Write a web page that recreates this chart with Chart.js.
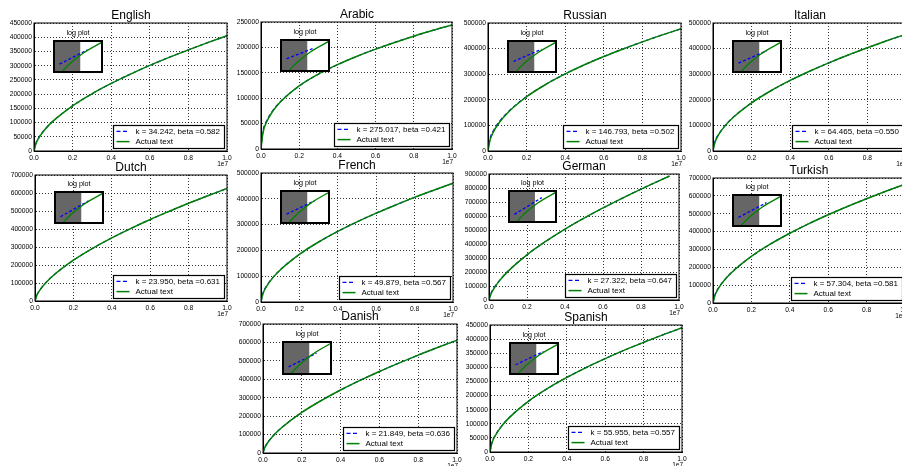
<!DOCTYPE html>
<html>
<head>
<meta charset="utf-8">
<script src="https://cdn.jsdelivr.net/npm/chart.js@4/dist/chart.umd.min.js"></script>
<style>
  html, body { margin: 0; padding: 0; background: #fff; }
  body { position: relative; width: 902px; height: 466px; overflow: hidden; font-family: "Liberation Sans", Arial, sans-serif; }
  .panel, .inset { position: absolute; }
  .inset-title { position: absolute; font-size: 7.2px; line-height: 10px; text-align: center; color: #000; white-space: nowrap; }
</style>
</head>
<body>
<script>
// ── Data ─────────────────────────────────────────────────────────
// x positions in units of 1e7 tokens
const X_POS        = [0, 0.01, 0.03, 0.06, 0.1, 0.2, 0.3, 0.4, 0.5, 0.6, 0.7, 0.8, 0.9, 1.0];
const X_POS_GERMAN = [0, 0.01, 0.03, 0.06, 0.1, 0.2, 0.3, 0.4, 0.5, 0.6, 0.7, 0.8, 0.9, 0.95];
const X_TICKS      = [0, 0.2, 0.4, 0.6, 0.8, 1.0];

const LANGUAGES   = ['English', 'Arabic', 'Russian', 'Italian', 'Dutch', 'French', 'German', 'Turkish', 'Danish', 'Spanish'];
const K_VALUES    = ['34.242', '275.017', '146.793', '64.465', '23.950', '49.879', '27.322', '57.304', '21.849', '55.955'];
const BETA_VALUES = ['0.582', '0.421', '0.502', '0.550', '0.631', '0.567', '0.647', '0.581', '0.636', '0.557'];
const Y_MAX       = [450000, 250000, 500000, 500000, 700000, 500000, 900000, 700000, 700000, 450000];
const Y_STEP      = [50000, 50000, 100000, 100000, 100000, 100000, 100000, 100000, 100000, 50000];

const ENGLISH_FIT    = [0, 27800, 52600, 78800, 106000, 158800, 201000, 237600, 270500, 300800, 329100, 355700, 380900, 405000];
const ENGLISH_ACTUAL = [0, 25900, 51300, 78200, 105800, 158900, 201100, 237500, 270400, 300900, 329000, 355600, 381000, 405200];
const ARABIC_FIT     = [0, 35100, 55800, 74700, 92500, 124000, 147000, 165900, 182200, 196800, 210000, 222100, 233500, 244000];
const ARABIC_ACTUAL  = [0, 31500, 53800, 73600, 92000, 124300, 147300, 166000, 182100, 196600, 209800, 222000, 233600, 244200];
const RUSSIAN_FIT    = [0, 47300, 82000, 116200, 150100, 212700, 260600, 301200, 336900, 369100, 398700, 426500, 452500, 477000];
const RUSSIAN_ACTUAL = [0, 41000, 77500, 112800, 147800, 211900, 260200, 301000, 336800, 369000, 398600, 426400, 452600, 477300];
const ITALIAN_FIT    = [0, 36200, 66300, 97100, 128500, 188200, 235200, 275500, 311500, 344300, 374700, 403300, 430400, 456000];
const ITALIAN_ACTUAL = [0, 33800, 64700, 96200, 128000, 188100, 235300, 275600, 311400, 344200, 374800, 403200, 430500, 456200];
const DUTCH_FIT      = [0, 34200, 68400, 105900, 146100, 226400, 292400, 350600, 403600, 452800, 498900, 542900, 584900, 625000];
const DUTCH_ACTUAL   = [0, 32500, 67200, 105200, 145800, 226500, 292500, 350500, 403500, 452900, 498800, 543000, 585000, 625300];
const FRENCH_FIT     = [0, 33800, 63000, 93300, 124700, 184700, 232400, 273700, 310500, 344300, 375700, 405400, 433400, 460000];
const FRENCH_ACTUAL  = [0, 31700, 61600, 92500, 124300, 184800, 232500, 273600, 310400, 344400, 375600, 405500, 433300, 460200];
const GERMAN_FIT     = [0, 46500, 94600, 148200, 206200, 323100, 419900, 505900, 584300, 657400, 726200, 792000, 854900, 885100];
const GERMAN_ACTUAL  = [0, 41500, 90800, 145600, 204700, 322700, 419800, 506000, 584200, 657500, 726100, 792100, 854800, 885400];
const TURKISH_FIT    = [0, 45800, 86600, 129700, 174500, 261100, 330400, 390600, 444600, 494200, 540400, 584200, 625600, 665000];
const TURKISH_ACTUAL = [0, 42000, 84200, 128300, 173700, 261000, 330500, 390500, 444700, 494100, 540500, 584100, 625700, 665200];
const DANISH_FIT     = [0, 32700, 65800, 102300, 141400, 220000, 284600, 341700, 393900, 442200, 487700, 531100, 572500, 612000];
const DANISH_ACTUAL  = [0, 30600, 64500, 101600, 141100, 220100, 284500, 341800, 393800, 442300, 487600, 531200, 572400, 612200];
const SPANISH_FIT    = [0, 33800, 62400, 91800, 122000, 179600, 225000, 264200, 299100, 331000, 360700, 388600, 415000, 440000];
const SPANISH_ACTUAL = [0, 31600, 61000, 91000, 121700, 179700, 225100, 264100, 299200, 330900, 360800, 388500, 415100, 440200];

const X_SERIES      = [X_POS, X_POS, X_POS, X_POS, X_POS, X_POS, X_POS_GERMAN, X_POS, X_POS, X_POS];
const FIT_SERIES    = [ENGLISH_FIT, ARABIC_FIT, RUSSIAN_FIT, ITALIAN_FIT, DUTCH_FIT, FRENCH_FIT, GERMAN_FIT, TURKISH_FIT, DANISH_FIT, SPANISH_FIT];
const ACTUAL_SERIES = [ENGLISH_ACTUAL, ARABIC_ACTUAL, RUSSIAN_ACTUAL, ITALIAN_ACTUAL, DUTCH_ACTUAL, FRENCH_ACTUAL, GERMAN_ACTUAL, TURKISH_ACTUAL, DANISH_ACTUAL, SPANISH_ACTUAL];

// inset "log plot" (in inset axes fractions)
const INSET_ACTUAL_X  = [0.15, 0.35, 0.6, 1.0];
const INSET_ACTUAL_Y  = [0.0, 0.3, 0.6, 0.95];
const INSET_FIT_X     = [0.13, 0.69];
const INSET_FIT_START = [0.27, 0.40, 0.35, 0.30, 0.22, 0.29, 0.26, 0.29, 0.24, 0.31];
const INSET_FIT_END   = [0.70, 0.73, 0.72, 0.67, 0.70, 0.68, 0.77, 0.74, 0.64, 0.71];
const INSET_SHADE     = [0, 0.55];

// ── Layout: plot area of each panel [left, top, right, bottom] in page px ──
const PANELS = [
  [34, 23, 227, 151],
  [261, 22, 452, 149],
  [488, 23, 681, 151],
  [713, 23, 906, 151],
  [35, 175, 227, 301],
  [261, 173, 453, 302],
  [489, 174, 679, 300],
  [713, 178, 905, 303],
  [263, 324, 457, 453],
  [490, 325, 682, 452]
];

const FONT = '"Liberation Sans", Arial, sans-serif';
const BLUE = '#0000ff';
const GREEN = '#008000';
const Y_AXIS_W = 36, X_AXIS_H = 18, TOP_PAD = 22, RIGHT_PAD = 10;

// ── Plugins ──────────────────────────────────────────────────────
const panelDecor = {
  id: 'panelDecor',
  afterDraw(chart, args, opts) {
    const { ctx, chartArea: a } = chart;
    ctx.save();
    // frame
    ctx.strokeStyle = '#000';
    ctx.lineWidth = 1;
    ctx.setLineDash([]);
    ctx.strokeRect(a.left, a.top, a.right - a.left, a.bottom - a.top);

    // title
    ctx.fillStyle = '#000';
    ctx.font = '12px ' + FONT;
    ctx.textAlign = 'center';
    ctx.textBaseline = 'alphabetic';
    ctx.fillText(opts.title, Math.round((a.left + a.right) / 2), Math.round(a.top - 4.4));

    // x offset text
    ctx.font = '6.5px ' + FONT;
    ctx.textAlign = 'right';
    ctx.fillText('1e7', a.right + 1, a.bottom + 15);

    // boxed legend, lower right
    const items = chart.data.datasets;
    ctx.font = '8px ' + FONT;
    const textW = Math.max(...items.map(d => ctx.measureText(d.label).width));
    const w = Math.round(3 + 13 + 6 + textW + 4), h = 23;
    const x0 = Math.round(a.right - 3 - w) + 0.5, y0 = Math.round(a.bottom - 3 - h) + 0.5;
    ctx.fillStyle = '#fff';
    ctx.fillRect(x0, y0, w, h);
    ctx.strokeStyle = '#000';
    ctx.lineWidth = 1.2;
    ctx.strokeRect(x0, y0, w, h);
    items.forEach((d, i) => {
      const cy = y0 + 5.8 + i * 10.3;
      ctx.strokeStyle = d.borderColor;
      ctx.lineWidth = d.borderWidth;
      ctx.setLineDash(d.borderDash || []);
      ctx.beginPath();
      ctx.moveTo(x0 + 3, cy);
      ctx.lineTo(x0 + 16, cy);
      ctx.stroke();
      ctx.setLineDash([]);
      ctx.fillStyle = '#000';
      ctx.textAlign = 'left';
      ctx.textBaseline = 'middle';
      ctx.fillText(d.label, x0 + 22, cy);
    });
    ctx.restore();
  }
};

const insetDecor = {
  id: 'insetDecor',
  beforeDraw(chart) {
    const { ctx, chartArea: a } = chart;
    ctx.save();
    ctx.fillStyle = '#fff';
    ctx.fillRect(a.left, a.top, a.right - a.left, a.bottom - a.top);
    ctx.restore();
  },
  afterDraw(chart) {
    const { ctx, chartArea: a } = chart;
    ctx.save();
    ctx.strokeStyle = '#000';
    ctx.lineWidth = 2;
    ctx.strokeRect(a.left + 1, a.top + 1, a.right - a.left - 2, a.bottom - a.top - 2);
    ctx.restore();
  }
};

// ── Builders ─────────────────────────────────────────────────────
function makeBox(cls, left, top, width, height) {
  const div = document.createElement('div');
  div.className = cls;
  Object.assign(div.style, {
    left: Math.round(left) + 'px', top: Math.round(top) + 'px',
    width: Math.round(width) + 'px', height: Math.round(height) + 'px'
  });
  const canvas = document.createElement('canvas');
  div.appendChild(canvas);
  document.body.appendChild(div);
  return canvas;
}

function buildPanel(i) {
  const [l, t, r, b] = PANELS[i];
  const canvas = makeBox('panel', l - Y_AXIS_W, t - TOP_PAD,
    (r - l) + Y_AXIS_W + RIGHT_PAD, (b - t) + TOP_PAD + X_AXIS_H);
  const xs = X_SERIES[i];
  const tickFont = { size: 6.7, family: FONT };

  new Chart(canvas.getContext('2d'), {
    type: 'line',
    data: {
      datasets: [
        {
          label: `k = ${K_VALUES[i]}, beta =${BETA_VALUES[i]}`,
          data: xs.map((x, j) => ({ x, y: FIT_SERIES[i][j] })),
          borderColor: BLUE, borderWidth: 1.2, borderDash: [4, 2.5],
          pointRadius: 0, cubicInterpolationMode: 'monotone', order: 2
        },
        {
          label: 'Actual text',
          data: xs.map((x, j) => ({ x, y: ACTUAL_SERIES[i][j] })),
          borderColor: GREEN, borderWidth: 1.5,
          pointRadius: 0, cubicInterpolationMode: 'monotone', order: 1
        }
      ]
    },
    options: {
      animation: false,
      responsive: true,
      maintainAspectRatio: false,
      devicePixelRatio: 1,
      events: [],
      layout: { padding: { top: TOP_PAD, right: RIGHT_PAD, left: 0, bottom: 0 } },
      plugins: {
        legend: { display: false },
        tooltip: { enabled: false },
        panelDecor: { title: LANGUAGES[i] }
      },
      scales: {
        x: {
          type: 'linear', min: 0, max: 1,
          afterBuildTicks: s => { s.ticks = X_TICKS.map(v => ({ value: v })); },
          afterFit: s => { s.height = X_AXIS_H; },
          ticks: { font: tickFont, color: '#000', padding: 3, maxRotation: 0, autoSkip: false, callback: v => v.toFixed(1) },
          grid: { color: '#000', lineWidth: 0.8, drawTicks: false },
          border: { display: true, color: '#000', width: 1, dash: [1, 2] }
        },
        y: {
          type: 'linear', min: 0, max: Y_MAX[i],
          afterFit: s => { s.width = Y_AXIS_W; },
          ticks: { font: tickFont, color: '#000', padding: 2, stepSize: Y_STEP[i], autoSkip: false, callback: v => String(v) },
          grid: { color: '#000', lineWidth: 0.8, drawTicks: false },
          border: { display: true, color: '#000', width: 1, dash: [1, 2] }
        }
      }
    },
    plugins: [panelDecor]
  });

  buildInset(i, l, t, r, b);
}

function buildInset(i, l, t, r, b) {
  const w = r - l, h = b - t;
  const il = Math.round(l + 0.1 * w), it = Math.round(t + 0.13 * h);
  const iw = Math.round(0.26 * w), ih = Math.round(0.26 * h);

  const title = document.createElement('div');
  title.className = 'inset-title';
  Object.assign(title.style, { left: il + 'px', top: (it - 12) + 'px', width: iw + 'px' });
  title.textContent = 'log plot';
  document.body.appendChild(title);

  const canvas = makeBox('inset', il, it, iw, ih);
  new Chart(canvas.getContext('2d'), {
    type: 'line',
    data: {
      datasets: [
        {
          data: INSET_ACTUAL_X.map((x, j) => ({ x, y: INSET_ACTUAL_Y[j] })),
          borderColor: GREEN, borderWidth: 1.3, pointRadius: 0,
          cubicInterpolationMode: 'monotone', order: 1
        },
        {
          data: INSET_FIT_X.map((x, j) => ({ x, y: j ? INSET_FIT_END[i] : INSET_FIT_START[i] })),
          borderColor: BLUE, borderWidth: 1.3, borderDash: [3, 2], pointRadius: 0, order: 2
        },
        {
          data: INSET_SHADE.map(x => ({ x, y: 1 })),
          borderWidth: 0, borderColor: 'rgba(0,0,0,0)', backgroundColor: '#666666',
          fill: 'origin', pointRadius: 0, order: 3
        }
      ]
    },
    options: {
      animation: false,
      responsive: true,
      maintainAspectRatio: false,
      devicePixelRatio: 1,
      events: [],
      layout: { padding: 0 },
      plugins: { legend: { display: false }, tooltip: { enabled: false } },
      scales: {
        x: { type: 'linear', min: 0, max: 1, display: false },
        y: { type: 'linear', min: 0, max: 1, display: false }
      }
    },
    plugins: [insetDecor]
  });
}

LANGUAGES.forEach((_, i) => buildPanel(i));
</script>
</body>
</html>
